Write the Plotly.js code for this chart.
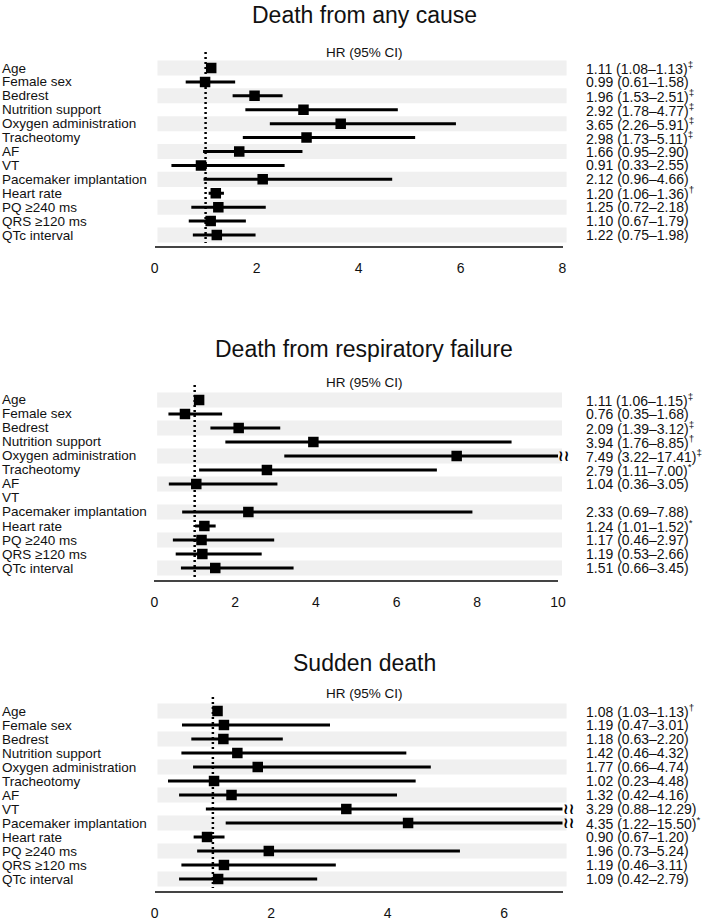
<!DOCTYPE html>
<html><head><meta charset="utf-8">
<script src="https://cdn.plot.ly/plotly-3.0.1.min.js"></script>
<style>html,body{margin:0;padding:0;background:#fff}</style>
</head><body><div id="chart" style="width:709px;height:922px"></div>
<script>
// ---- data ----
const variables = ['Age','Female sex','Bedrest','Nutrition support','Oxygen administration','Tracheotomy','AF','VT','Pacemaker implantation','Heart rate','PQ ≥240 ms','QRS ≥120 ms','QTc interval'];
const panelTitles = ['Death from any cause','Death from respiratory failure','Sudden death'];
const headerText = 'HR (95% CI)';

const hrAny  = [1.11,0.99,1.96,2.92,3.65,2.98,1.66,0.91,2.12,1.20,1.25,1.10,1.22];
const loAny  = [1.08,0.61,1.53,1.78,2.26,1.73,0.95,0.33,0.96,1.06,0.72,0.67,0.75];
const hiAny  = [1.13,1.58,2.51,4.77,5.91,5.11,2.90,2.55,4.66,1.36,2.18,1.79,1.98];
const sigAny = ['‡','','‡','‡','‡','‡','','','','†','','',''];

const hrResp  = [1.11,0.76,2.09,3.94,7.49,2.79,1.04,null,2.33,1.24,1.17,1.19,1.51];
const loResp  = [1.06,0.35,1.39,1.76,3.22,1.11,0.36,null,0.69,1.01,0.46,0.53,0.66];
const hiResp  = [1.15,1.68,3.12,8.85,17.41,7.00,3.05,null,7.88,1.52,2.97,2.66,3.45];
const sigResp = ['‡','','‡','†','‡','*','','','','*','','',''];

const hrSud  = [1.08,1.19,1.18,1.42,1.77,1.02,1.32,3.29,4.35,0.90,1.96,1.19,1.09];
const loSud  = [1.03,0.47,0.63,0.46,0.66,0.23,0.42,0.88,1.22,0.67,0.73,0.46,0.42];
const hiSud  = [1.13,3.01,2.20,4.32,4.74,4.48,4.16,12.29,15.50,1.20,5.24,3.11,2.79];
const sigSud = ['†','','','','','','','','*','','','',''];

// ---- layout geometry (pixels) ----
const W = 709, H = 922;
const FONT = 'Liberation Sans, Arial, Helvetica, sans-serif';
const panels = [
  {title:panelTitles[0], hr:hrAny, lo:loAny, hi:hiAny, sig:sigAny, xmax:8,
   g:{xl:154.6, xr:562.5, row0:68, step:13.92, axisY:246, titleY:15, hrY:53, dotTop:52}},
  {title:panelTitles[1], hr:hrResp, lo:loResp, hi:hiResp, sig:sigResp, xmax:10,
   g:{xl:154.3, xr:558, row0:400, step:14, axisY:580, titleY:349, hrY:383, dotTop:385}},
  {title:panelTitles[2], hr:hrSud, lo:loSud, hi:hiSud, sig:sigSud, xmax:7,
   g:{xl:154.6, xr:562.5, row0:711, step:14, axisY:891, titleY:663, hrY:693, dotTop:697}}
];

const rows = variables.map((_, i) => i);
const traces = [];
const shapes = [];
const annotations = [];
const layout = {
  width: W, height: H, margin:{l:0,r:0,t:0,b:0},
  paper_bgcolor:'#fff', plot_bgcolor:'rgba(0,0,0,0)',
  showlegend:false, font:{family:FONT, color:'#111'}
};

panels.forEach((p, i) => {
  const s = i === 0 ? '' : String(i + 1);
  const g = p.g;
  const xa = 'x' + s, ya = 'y' + s;
  const f2 = v => v.toFixed(2);

  traces.push({
    type:'scatter', mode:'markers', x:p.hr, y:rows, xaxis:xa, yaxis:ya,
    marker:{symbol:'square', size:10.5, color:'#000'},
    error_x:{type:'data', symmetric:false,
      array:p.hr.map((v, k) => v == null ? null : p.hi[k] - v),
      arrayminus:p.hr.map((v, k) => v == null ? null : v - p.lo[k]),
      thickness:3, width:0, color:'#000'},
    hoverinfo:'skip'
  });

  layout['xaxis' + s] = {
    domain:[g.xl / W, g.xr / W], range:[0, p.xmax], anchor:ya,
    showline:true, linecolor:'#444', linewidth:1.6, showgrid:false, zeroline:false,
    ticks:'outside', ticklen:9, tickcolor:'rgba(0,0,0,0)', dtick:2, tick0:0,
    tickfont:{size:14, color:'#111', family:FONT}, fixedrange:true
  };
  layout['yaxis' + s] = {
    domain:[1 - g.axisY / H, 1 - (g.row0 - 2 * g.step) / H],
    range:[(g.axisY - g.row0) / g.step, -2], anchor:xa, visible:false, fixedrange:true
  };

  // alternating bands
  rows.forEach(r => {
    if (r % 2 === 0) {
      shapes.push({type:'rect', xref:xa + ' domain', yref:ya, x0:0.007, x1:1.01,
        y0:r - 0.54, y1:r + 0.54, fillcolor:'#f0f0f0', line:{width:0}, layer:'below'});
    }
  });
  // reference line at HR = 1
  shapes.push({type:'line', xref:xa, yref:ya, x0:1, x1:1,
    y0:(g.dotTop - g.row0) / g.step, y1:(g.axisY - 3 - g.row0) / g.step,
    line:{color:'#000', width:2.5, dash:'2px,3px'}, layer:'below'});

  // titles
  annotations.push({xref:'paper', yref:'paper', x:364 / W, y:1 - g.titleY / H,
    xanchor:'center', yanchor:'middle', text:p.title, showarrow:false,
    font:{size:23, color:'#111', family:FONT}});
  annotations.push({xref:'paper', yref:'paper', x:364 / W, y:1 - g.hrY / H,
    xanchor:'center', yanchor:'middle', text:headerText, showarrow:false,
    font:{size:13.5, color:'#111', family:FONT}});

  rows.forEach(r => {
    annotations.push({xref:'paper', yref:ya, x:0, y:r, xanchor:'left', yanchor:'middle',
      text:variables[r], showarrow:false, font:{size:13.5, color:'#111', family:FONT}});
    if (p.hr[r] != null) {
      const sup = p.sig[r] ? '<sup>' + p.sig[r] + '</sup>' : '';
      annotations.push({xref:'paper', yref:ya, x:584 / W, y:r, xanchor:'left', yanchor:'middle',
        text:f2(p.hr[r]) + ' (' + f2(p.lo[r]) + '–' + f2(p.hi[r]) + ')' + sup,
        showarrow:false, font:{size:14, color:'#111', family:FONT}});
      if (p.hi[r] > p.xmax) {
        annotations.push({xref:xa, yref:ya, x:p.xmax, y:r, xanchor:'left', yanchor:'middle',
          xshift:-2, text:'<b>≀≀</b>', showarrow:false, font:{size:15, color:'#000', family:'DejaVu Sans'}});
      }
    }
  });
});

layout.shapes = shapes;
layout.annotations = annotations;
Plotly.newPlot('chart', traces, layout, {staticPlot:true, displayModeBar:false});
</script>
</body></html>
